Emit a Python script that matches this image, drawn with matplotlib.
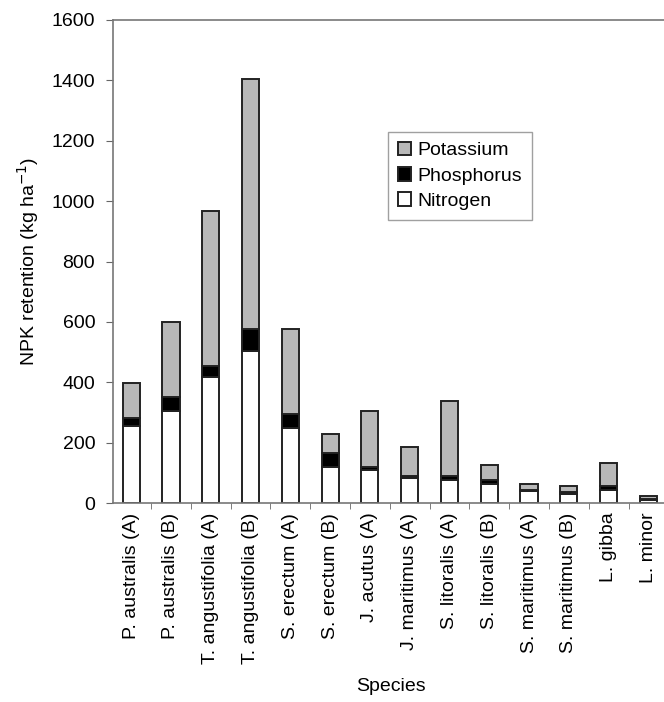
import matplotlib
matplotlib.use("Agg")
import matplotlib.pyplot as plt
import numpy as np

species = ["P. australis (A)", "P. australis (B)", "T. angustifolia (A)", "T. angustifolia (B)",
           "S. erectum (A)", "S. erectum (B)", "J. acutus (A)", "J. maritimus (A)",
           "S. litoralis (A)", "S. litoralis (B)", "S. maritimus (A)", "S. maritimus (B)",
           "L. gibba", "L. minor"]
nitrogen = [254, 305, 418, 504, 249, 119, 108, 84, 77, 62, 40, 30, 42, 10]
phosphorus = [26, 46, 36, 74, 45, 45, 11, 4, 11, 15, 3, 5, 15, 3]
potassium = [116, 249, 513, 825, 282, 64, 186, 96, 250, 48, 20, 21, 76, 10]
yticks = [0, 200, 400, 600, 800, 1000, 1200, 1400, 1600]

plt.rcParams['font.family'] = ['Liberation Sans', 'DejaVu Sans']
plt.rcParams['font.size'] = 14

fig = plt.figure(figsize=(6.64, 7.02), dpi=100)
ax = fig.add_axes([113.3 / 664, 1 - 503 / 702, 555 / 664, 483 / 702])

x = np.arange(len(species))
n = np.array(nitrogen)
p = np.array(phosphorus)
k = np.array(potassium)
w = 0.43
ec = '#222222'
lw = 1.4
ax.bar(x, n, width=w, color='white', edgecolor=ec, linewidth=lw, label='Nitrogen')
ax.bar(x, p, bottom=n, width=w, color='black', edgecolor=ec, linewidth=lw, label='Phosphorus')
ax.bar(x, k, bottom=n + p, width=w, color='#b8b8b8', edgecolor=ec, linewidth=lw, label='Potassium')

ax.set_xlim(-0.45, 13.5)
ax.set_ylim(0, 1600)
ax.set_yticks(yticks)
ax.set_xticks(x)
ax.set_xticklabels(species, rotation=90, va='top', ha='center')
ax.set_xticks(np.arange(0.5, len(species) - 0.4, 1), minor=True)
ax.tick_params(axis='x', which='major', length=0, pad=7)
ax.tick_params(axis='x', which='minor', length=4, direction='out', color='#666666')
ax.tick_params(axis='y', length=5, direction='out', color='#666666', pad=8)

for s in ['left', 'bottom', 'top', 'right']:
    ax.spines[s].set_color('#777777')
    ax.spines[s].set_linewidth(1.2)

ax.set_ylabel('NPK retention (kg ha$^{-1}$)', labelpad=8)
ax.set_xlabel('Species', labelpad=10)

h, l = ax.get_legend_handles_labels()
leg = ax.legend(h[::-1], l[::-1], loc='upper left', bbox_to_anchor=((388 - 113.3) / 555, (503 - 132) / 483),
                frameon=True, fancybox=False, handlelength=0.7, handleheight=0.7,
                handletextpad=0.3, borderpad=0.5, labelspacing=0.4, borderaxespad=0)
leg.get_frame().set_edgecolor('#888888')
leg.get_frame().set_linewidth(1.0)

fig.savefig('out.png', dpi=100)
